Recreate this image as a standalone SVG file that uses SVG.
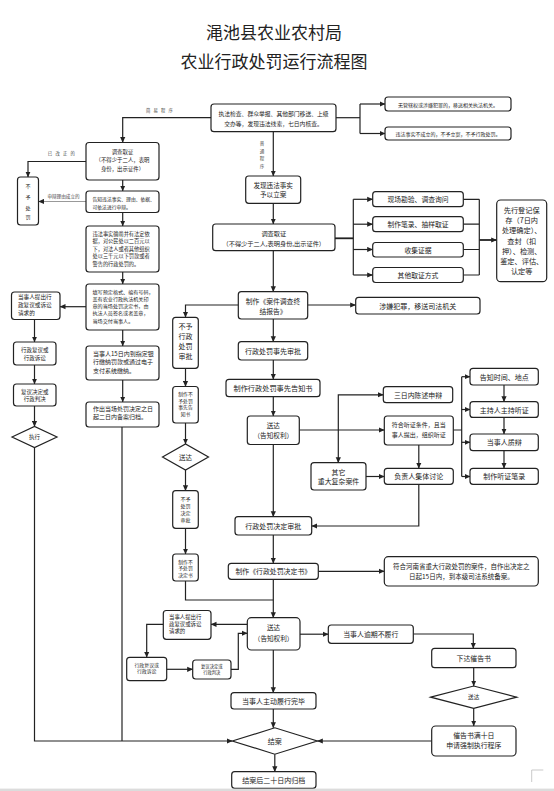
<svg xmlns="http://www.w3.org/2000/svg" width="554" height="791" viewBox="0 0 554 791">
<style>
.b{fill:#fff;stroke:#222;stroke-width:1.2}
.t{font-family:"Noto Sans CJK SC","Noto Sans",sans-serif;fill:#222;text-anchor:middle;dominant-baseline:central}
.s{text-anchor:start}
.lb{fill:#444}
.c path{fill:none;stroke:#222;stroke-width:1.2}
.c path.a{marker-end:url(#ar)}
.c path.g{stroke:#999}
</style>
<defs>
<marker id="ar" markerUnits="userSpaceOnUse" markerWidth="6" markerHeight="6" refX="5.5" refY="3" orient="auto">
<path d="M0,0.4 L5.8,3 L0,5.6 z" fill="#222"/>
</marker>
</defs>
<rect x="0" y="0" width="554" height="791" fill="#fff"/>
<g id="title">
<text class="t" x="274" y="31" font-size="17">渑池县农业农村局</text>
<text class="t" x="274" y="60" font-size="17">农业行政处罚运行流程图</text>
</g>

<g class="c" id="connectors">
<path class="a" d="M211,117.7 H122.7 V142.5"/>
<path class="a" d="M273.3,131.7 V176"/>
<path d="M336,117.7 H360"/>
<path d="M360,104 V133.5"/>
<path class="a" d="M360,104 H385"/>
<path class="a" d="M360,133.5 H385"/>
<path class="a" d="M86,161.5 H28 V177"/>
<path class="a" d="M122.7,180 V191"/>
<path class="a g" d="M86,201.5 H38.5"/>
<path class="a" d="M122.7,212.5 V226"/>
<path class="a" d="M122.7,272 V284"/>
<path class="a" d="M86,306.7 H60"/>
<path class="a" d="M122.7,330 V346"/>
<path class="a" d="M122.7,380 V402"/>
<path d="M122,427 V741"/>
<path class="a" d="M34.5,447.5 V741 H232.3"/>
<path class="a" d="M34.5,319.5 V342"/>
<path class="a" d="M34.5,365 V384"/>
<path class="a" d="M34.5,406 V426.5"/>
<path class="a" d="M273.3,203.3 V224"/>
<path d="M335,238.3 H353.3" style="stroke-width:1.8"/>
<path d="M353.3,199.3 V275"/>
<path class="a" d="M353.3,199.3 H372.7"/>
<path class="a" d="M353.3,224.2 H372.7"/>
<path class="a" d="M353.3,249.5 H372.7"/>
<path class="a" d="M353.3,275 H372.7"/>
<path d="M463.3,199.3 H479.3 M463.3,224.2 H479.3 M463.3,249.5 H479.3 M463.3,275 H479.3 M479.3,199.3 V275"/>
<path class="a" d="M479.3,240 H496.7" style="stroke-width:1.8"/>
<path class="a" d="M273.3,250.7 V291.7"/>
<path class="a" d="M307.7,305 H355.7"/>
<path class="a" d="M238.3,305 H185.5 V317.3"/>
<path class="a" d="M185.5,368.3 V386.5"/>
<path class="a" d="M185.5,423 V444"/>
<path class="a" d="M185.5,470 V490.7"/>
<path class="a" d="M185.5,528.3 V554"/>
<path d="M185.5,581 V600 H273.3"/>
<path class="a" d="M273.3,319 V341.7"/>
<path class="a" d="M273.3,360 V379.3"/>
<path class="a" d="M273.3,396.7 V416"/>
<path class="a" d="M299.3,430 H384.3"/>
<path class="a" d="M338.3,430 V394.8 H383.3"/>
<path class="a" d="M338.3,430 V462.7"/>
<path d="M453.3,430 H461.7 M461.7,376.7 V476.5"/>
<path class="a" d="M461.7,376.7 H470"/>
<path class="a" d="M461.7,409.5 H470"/>
<path class="a" d="M461.7,442.3 H470"/>
<path class="a" d="M461.7,476.5 H470"/>
<path class="a" d="M504,385 V401.7"/>
<path class="a" d="M504,417.3 V434"/>
<path class="a" d="M504,450.7 V468.3"/>
<path class="a" d="M418.8,445 V468.3"/>
<path class="a" d="M366,476.5 H384.3"/>
<path class="a" d="M418.8,484.3 V526 H311.7"/>
<path class="a" d="M273.3,444.5 V516.7"/>
<path class="a" d="M273.3,535 V563.3"/>
<path class="a" d="M318.3,571.3 H384.3"/>
<path class="a" d="M273.3,579.3 V617.7"/>
<path class="a" d="M247.3,624.3 H211"/>
<path class="a" d="M163.3,624.3 H146.7 V657.3"/>
<path class="a" d="M166.7,669.3 H192.7"/>
<path class="a" d="M231,669.3 H238.3 V633.3 H247.3"/>
<path class="a" d="M300,634.2 H328.3"/>
<path class="a" d="M413.3,634 H473.3 V648.3"/>
<path class="a" d="M473.7,667.7 V686"/>
<path class="a" d="M473.7,708.3 V726"/>
<path class="a" d="M431.7,741 H317.3"/>
<path class="a" d="M273.3,650 V692.7"/>
<path class="a" d="M273.3,709 V727.8"/>
<path class="a" d="M274.8,754.2 V771.7"/>
</g>

<g id="labels">
<text class="t lb" x="161" y="109.5" font-size="4.3" letter-spacing="3.2">简易程序</text>
<text class="t lb" x="262" y="143" font-size="4.5">普</text>
<text class="t lb" x="262" y="150.5" font-size="4.5">通</text>
<text class="t lb" x="262" y="158" font-size="4.5">程</text>
<text class="t lb" x="262" y="165.5" font-size="4.5">序</text>
<text class="t lb" x="63" y="152.5" font-size="4.3" letter-spacing="3.3">已改正的</text>
<text class="t lb" x="63.5" y="195.7" font-size="4.6">申辩理由成立的</text>
</g>

<g id="n-source"><rect class="b" x="211" y="104" width="125" height="27.7" rx="3"/>
<text class="t" font-size="5.8"><tspan x="273.5" y="113.3">执法检查、群众举报、其他部门移送、上级</tspan><tspan x="273.5" y="123.3">交办等，发现违法线索，七日内核查。</tspan></text></g>
<g id="n-transfer"><rect class="b" x="385" y="97" width="126" height="14" rx="3"/>
<text class="t" x="448" y="104" font-size="5">无管辖权或涉嫌犯罪的，移送相关执法机关。</text></g>
<g id="n-noreg"><rect class="b" x="385" y="127" width="126" height="13" rx="3"/>
<text class="t" x="448" y="133.5" font-size="5">违法事实不成立的，不予立案，不予行政处罚。</text></g>

<g id="n-s-investigate"><rect class="b" x="86" y="142.5" width="73" height="37.5" rx="3"/>
<text class="t" font-size="5.4"><tspan x="122.5" y="151.5">调查取证</tspan><tspan x="122.5" y="160.2">（不得少于二人，表明</tspan><tspan x="122.5" y="168.9">身份，出示证件）</tspan></text></g>
<g id="n-nopunish"><rect class="b" x="17.5" y="177" width="21" height="48" rx="3"/>
<text class="t" font-size="5"><tspan x="28" y="185">不</tspan><tspan x="28" y="195.5">予</tspan><tspan x="28" y="206.5">处</tspan><tspan x="28" y="216">罚</tspan></text></g>
<g id="n-s-notice"><rect class="b" x="86" y="191" width="73" height="21.5" rx="3"/>
<text class="t s" font-size="4.8"><tspan x="92.5" y="197.5">告知违法事实、理由、依据、</tspan><tspan x="92.5" y="205.7">可依法进行申辩。</tspan></text></g>
<g id="n-s-cond"><rect class="b" x="86" y="226" width="73" height="46" rx="3"/>
<text class="t s" font-size="5.2"><tspan x="92.5" y="232.7">违法事实确凿并有法定依</tspan><tspan x="92.5" y="240.2">据，对公民处以二百元以</tspan><tspan x="92.5" y="247.7">下，对法人或者其他组织</tspan><tspan x="92.5" y="255.2">处以三千元以下罚款或者</tspan><tspan x="92.5" y="262.7">警告的行政处罚的。</tspan></text></g>
<g id="n-s-form"><rect class="b" x="86" y="284" width="73" height="46" rx="3"/>
<text class="t s" font-size="5.1"><tspan x="92.5" y="290.5">填写预定格式、编有号码，</tspan><tspan x="92.5" y="297.8">盖有农业行政执法机关印</tspan><tspan x="92.5" y="305.1">章的当场处罚决定书，由</tspan><tspan x="92.5" y="312.4">执法人员签名或者盖章，</tspan><tspan x="92.5" y="319.7">当场交付当事人。</tspan></text></g>
<g id="n-s-pay"><rect class="b" x="86" y="346" width="73" height="34" rx="3"/>
<text class="t s" font-size="6"><tspan x="93" y="353">当事人15日内到指定银</tspan><tspan x="93" y="361.2">行缴纳罚款或通过电子</tspan><tspan x="93" y="369.5">支付系统缴纳。</tspan></text></g>
<g id="n-s-archive"><rect class="b" x="86" y="402" width="73" height="25" rx="3"/>
<text class="t s" font-size="6"><tspan x="93" y="408">作出当场处罚决定之日</tspan><tspan x="93" y="416.3">起二日内备案归档。</tspan></text></g>

<g id="n-appeal1"><rect class="b" x="11.5" y="292" width="48.5" height="27.5" rx="3"/>
<text class="t s" font-size="5.6"><tspan x="18" y="297">当事人提出行</tspan><tspan x="18" y="305.2">政复议或诉讼</tspan><tspan x="18" y="313.3">请求的</tspan></text></g>
<g id="n-review1"><rect class="b" x="13.5" y="342" width="42.5" height="23" rx="3"/>
<text class="t" font-size="5.5"><tspan x="34.7" y="350">行政复议或</tspan><tspan x="34.7" y="357.5">行政诉讼</tspan></text></g>
<g id="n-judgment1"><rect class="b" x="13.5" y="384" width="42.5" height="22" rx="3"/>
<text class="t" font-size="5.5"><tspan x="34.7" y="391.7">复议决定或</tspan><tspan x="34.7" y="398.7">行政判决</tspan></text></g>
<g id="n-execute"><polygon class="b" points="12,437 34.5,426.5 57,437 34.5,447.5"/>
<text class="t" x="34.5" y="437" font-size="5.5">执行</text></g>

<g id="n-case"><rect class="b" x="245.7" y="176" width="55" height="27.3" rx="3"/>
<text class="t" font-size="6.6"><tspan x="273.2" y="185">发现违法事实</tspan><tspan x="273.2" y="194.3">予以立案</tspan></text></g>
<g id="n-investigate"><rect class="b" x="212.7" y="224" width="122.3" height="26.7" rx="3"/>
<text class="t" font-size="6.2"><tspan x="273.8" y="232.7">调查取证</tspan><tspan x="273.8" y="242.7">（不得少于二人,表明身份,出示证件）</tspan></text></g>
<g id="n-ev1"><rect class="b" x="372.7" y="191.7" width="90.6" height="15" rx="3"/>
<text class="t" x="418" y="199.3" font-size="6.8">现场勘验、调查询问</text></g>
<g id="n-ev2"><rect class="b" x="372.7" y="216.7" width="90.6" height="15" rx="3"/>
<text class="t" x="418" y="224.2" font-size="6.8">制作笔录、抽样取证</text></g>
<g id="n-ev3"><rect class="b" x="372.7" y="242.5" width="90.6" height="14.5" rx="3"/>
<text class="t" x="418" y="249.6" font-size="6.8">收集证据</text></g>
<g id="n-ev4"><rect class="b" x="372.7" y="267.5" width="90.6" height="15" rx="3"/>
<text class="t" x="418" y="275" font-size="6.8">其他取证方式</text></g>
<g id="n-preserve"><rect class="b" x="496.7" y="200" width="50" height="81.7" rx="4"/>
<text class="t" font-size="7.2"><tspan x="521.7" y="210">先行登记保</tspan><tspan x="521.7" y="220.2">存（7日内</tspan><tspan x="521.7" y="230.4">处理确定）、</tspan><tspan x="521.7" y="240.6">查封（扣</tspan><tspan x="521.7" y="250.8">押）、检测、</tspan><tspan x="521.7" y="261">鉴定、评估、</tspan><tspan x="521.7" y="271.2">认定等</tspan></text></g>

<g id="n-report"><rect class="b" x="238.3" y="291.7" width="69.4" height="27.3" rx="3"/>
<text class="t" font-size="6.8"><tspan x="273" y="300.7">制作《案件调查终</tspan><tspan x="273" y="310.7">结报告》</tspan></text></g>
<g id="n-crime"><rect class="b" x="355.7" y="297.3" width="124.3" height="16.7" rx="3"/>
<text class="t" x="417.8" y="305.8" font-size="7">涉嫌犯罪，移送司法机关</text></g>
<g id="n-noadmin"><rect class="b" x="172.7" y="317.3" width="25.6" height="51" rx="3"/>
<text class="t" font-size="7"><tspan x="185.5" y="325.5">不予</tspan><tspan x="185.5" y="335.8">行政</tspan><tspan x="185.5" y="346.1">处罚</tspan><tspan x="185.5" y="356.4">审批</tspan></text></g>
<g id="n-noprenotice"><rect class="b" x="172.7" y="386.5" width="25.6" height="36.5" rx="3"/>
<text class="t" font-size="4.8"><tspan x="185.5" y="393.3">制作不</tspan><tspan x="185.5" y="399.8">予处罚</tspan><tspan x="185.5" y="406.2">事先告</tspan><tspan x="185.5" y="412.6">知书</tspan></text></g>
<g id="n-nodeliver"><polygon class="b" points="162.5,457 185.5,444 208.5,457 185.5,470"/>
<text class="t" x="185.5" y="457" font-size="6.5">送达</text></g>
<g id="n-nodecision"><rect class="b" x="172.7" y="490.7" width="25.6" height="37.6" rx="3"/>
<text class="t" font-size="5"><tspan x="185.5" y="498.3">不予</tspan><tspan x="185.5" y="505">处罚</tspan><tspan x="185.5" y="511.7">决定</tspan><tspan x="185.5" y="519.3">审批</tspan></text></g>
<g id="n-nodecdoc"><rect class="b" x="172.7" y="554" width="25.6" height="27" rx="3"/>
<text class="t" font-size="4.8"><tspan x="185.5" y="560.7">制作不</tspan><tspan x="185.5" y="567.2">予处罚</tspan><tspan x="185.5" y="573.7">决定书</tspan></text></g>

<g id="n-preapprove"><rect class="b" x="238.3" y="341.7" width="69.4" height="18.3" rx="3"/>
<text class="t" x="273" y="350.8" font-size="7">行政处罚事先审批</text></g>
<g id="n-prenotice"><rect class="b" x="226" y="379.3" width="94" height="17.4" rx="3"/>
<text class="t" x="273" y="388" font-size="7.2">制作行政处罚事先告知书</text></g>
<g id="n-deliver1"><rect class="b" x="247.3" y="416" width="52" height="28.5" rx="3"/>
<text class="t" font-size="6.6"><tspan x="273.3" y="425.3">送达</tspan><tspan x="273.3" y="435.3">（告知权利）</tspan></text></g>
<g id="n-defense"><rect class="b" x="383.3" y="386.7" width="69.4" height="16" rx="3"/>
<text class="t" x="418" y="394.8" font-size="6.9">三日内陈述申辩</text></g>
<g id="n-hearing"><rect class="b" x="384.3" y="416" width="69" height="29" rx="3"/>
<text class="t" font-size="6"><tspan x="418.8" y="424.3">符合听证条件，且当</tspan><tspan x="418.8" y="434.3">事人提出，组织听证</tspan></text></g>
<g id="n-complex"><rect class="b" x="311" y="462.7" width="55" height="27.3" rx="3"/>
<text class="t" font-size="6.9"><tspan x="338.5" y="471.7">其它</tspan><tspan x="338.5" y="480.9">重大复杂案件</tspan></text></g>
<g id="n-collective"><rect class="b" x="384.3" y="468.3" width="69" height="16" rx="3"/>
<text class="t" x="418.8" y="476.4" font-size="7">负责人集体讨论</text></g>
<g id="n-h1"><rect class="b" x="470" y="368.3" width="68.3" height="16.7" rx="3"/>
<text class="t" x="504.2" y="376.7" font-size="7">告知时间、地点</text></g>
<g id="n-h2"><rect class="b" x="470" y="401.7" width="68.3" height="15.7" rx="3"/>
<text class="t" x="504.2" y="409.5" font-size="7">主持人主持听证</text></g>
<g id="n-h3"><rect class="b" x="470" y="434" width="68.3" height="16.7" rx="3"/>
<text class="t" x="504.2" y="442.3" font-size="7">当事人质辩</text></g>
<g id="n-h4"><rect class="b" x="470" y="468.3" width="68.3" height="16" rx="3"/>
<text class="t" x="504.2" y="476.4" font-size="7">制作听证笔录</text></g>

<g id="n-decapprove"><rect class="b" x="235" y="516.7" width="76.7" height="18.3" rx="3"/>
<text class="t" x="273.3" y="525.8" font-size="7">行政处罚决定审批</text></g>
<g id="n-decdoc"><rect class="b" x="228.3" y="563.3" width="90" height="16" rx="3"/>
<text class="t" x="273.3" y="571.4" font-size="6.9">制作《行政处罚决定书》</text></g>
<g id="n-record"><rect class="b" x="384.3" y="556.7" width="154" height="29.3" rx="4"/>
<text class="t" font-size="6.5"><tspan x="461.3" y="565.9">符合河南省重大行政处罚的案件，自作出决定之</tspan><tspan x="461.3" y="575.9">日起15日内，到本级司法系统备案。</tspan></text></g>

<g id="n-deliver2"><rect class="b" x="247.3" y="617.7" width="52.7" height="32.3" rx="4"/>
<text class="t" font-size="6.6"><tspan x="273.6" y="626.9">送达</tspan><tspan x="273.6" y="637.9">（告知权利）</tspan></text></g>
<g id="n-appeal2"><rect class="b" x="163.3" y="610.5" width="47.7" height="28.8" rx="3"/>
<text class="t s" font-size="5.4"><tspan x="169" y="616.9">当事人提出行</tspan><tspan x="169" y="624.2">政复议或诉讼</tspan><tspan x="169" y="631.4">请求的</tspan></text></g>
<g id="n-review2"><rect class="b" x="126.7" y="657.3" width="40" height="23.4" rx="3"/>
<text class="t" font-size="4.9"><tspan x="146.7" y="663.6">行政复议或</tspan><tspan x="146.7" y="670.3">行政诉讼</tspan></text></g>
<g id="n-judgment2"><rect class="b" x="192.7" y="660" width="38.3" height="19" rx="3"/>
<text class="t" font-size="4.3"><tspan x="211.8" y="666.2">复议决定或</tspan><tspan x="211.8" y="672">行政判决</tspan></text></g>
<g id="n-overdue"><rect class="b" x="328.3" y="625" width="85" height="18.3" rx="3"/>
<text class="t" x="370.8" y="634" font-size="6.9">当事人逾期不履行</text></g>
<g id="n-urge"><rect class="b" x="431.7" y="648.3" width="84.3" height="19.4" rx="3"/>
<text class="t" x="473.8" y="657.5" font-size="6.9">下达催告书</text></g>
<g id="n-urgedeliver"><polygon class="b" points="430.7,697.2 473.7,686 516.7,697.2 473.7,708.3"/>
<text class="t" x="473.7" y="697.4" font-size="5.6">送达</text></g>
<g id="n-enforce"><rect class="b" x="431.7" y="726" width="84.3" height="30" rx="4"/>
<text class="t" font-size="6.9"><tspan x="473.8" y="734.6">催告书满十日</tspan><tspan x="473.8" y="744.6">申请强制执行程序</tspan></text></g>
<g id="n-comply"><rect class="b" x="231" y="692.7" width="85" height="16.3" rx="3"/>
<text class="t" x="273.5" y="700.9" font-size="7">当事人主动履行完毕</text></g>
<g id="n-close"><polygon class="b" points="232.3,741 274.8,727.8 317.3,741 274.8,754.2"/>
<text class="t" x="274.8" y="741" font-size="7">结案</text></g>
<g id="n-archive"><rect class="b" x="231.7" y="771.7" width="84.3" height="16.6" rx="3"/>
<text class="t" x="273.8" y="780" font-size="7">结案后二十日内归档</text></g>

<path d="M543.3,770 H531.7 V782" fill="none" stroke="#bbb" stroke-width="0.8"/>
<rect x="0" y="788.6" width="554" height="2.4" fill="#dcdcdc"/>
</svg>
